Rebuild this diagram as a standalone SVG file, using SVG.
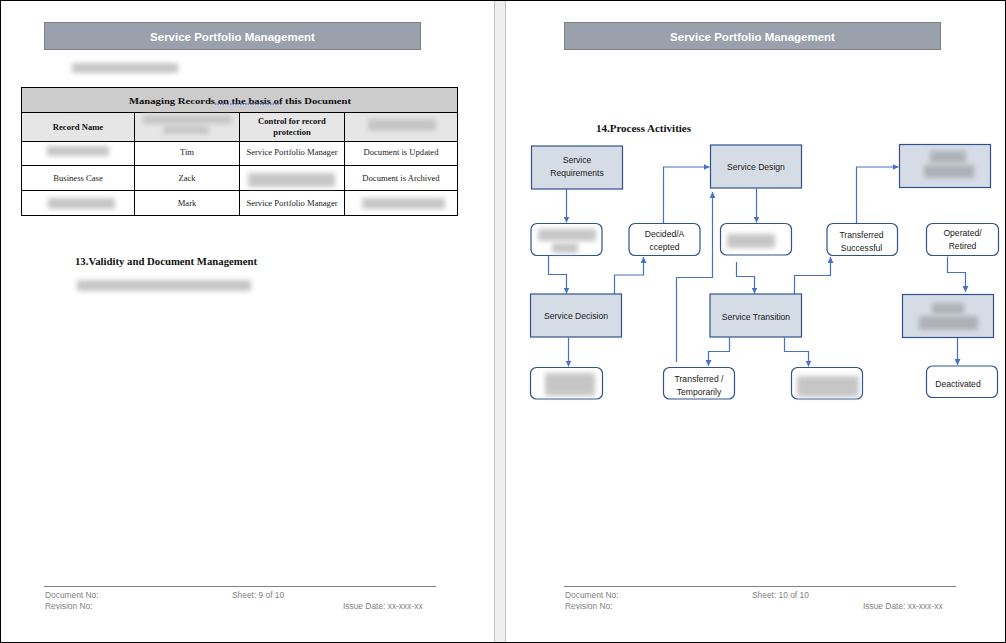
<svg xmlns="http://www.w3.org/2000/svg" width="1006" height="643" viewBox="0 0 1006 643">
<defs>
<style>
.hdr{fill:#9aa1ac;stroke:#7f7f7f;stroke-width:1}
.hdrt{font-family:"Liberation Sans",Arial,sans-serif;font-weight:bold;font-size:11.5px;fill:#fff;text-anchor:middle}
.ser{font-family:"Liberation Serif","Times New Roman",serif;font-size:8.6px;fill:#222;text-anchor:middle}
.serb{font-family:"Liberation Serif","Times New Roman",serif;font-size:8.6px;font-weight:bold;fill:#111;text-anchor:middle}
.sect{font-family:"Liberation Serif","Times New Roman",serif;font-size:10px;font-weight:bold;fill:#111}
.foot{font-family:"Liberation Sans",Arial,sans-serif;font-size:8.4px;fill:#7f7f7f}
.fl{font-family:"Liberation Sans",Arial,sans-serif;font-size:8.6px;fill:#1a1a1a;text-anchor:middle}
.proc{fill:#d6dce5;stroke:#2f528f;stroke-width:1.2}
.out{fill:#fff;stroke:#2f528f;stroke-width:1.2}
.cell{fill:none;stroke:#000;stroke-width:1}
.blur{fill:#c6c6c6;filter:url(#bl)}
.blurd{fill:#aeb1b8;filter:url(#bl)}
.con{fill:none;stroke:#4472c4;stroke-width:1.2;marker-end:url(#ah)}
</style>
<filter id="bl" x="-40%" y="-80%" width="180%" height="260%"><feGaussianBlur stdDeviation="2.8"/></filter>
<marker id="ah" markerUnits="userSpaceOnUse" markerWidth="7" markerHeight="6" refX="6" refY="3" orient="auto"><path d="M0,0 L6,3 L0,6 z" fill="#4472c4"/></marker>
</defs>
<rect x="0" y="0" width="1006" height="643" fill="#fff"/>
<!-- gutter -->
<rect x="494.5" y="0" width="11" height="643" fill="#efefef" stroke="#c0c0c0" stroke-width="1"/>
<rect x="0.5" y="0.5" width="1005" height="642" fill="none" stroke="#000" stroke-width="1"/>

<!-- LEFT PAGE -->
<g id="left-header">
<rect class="hdr" x="44.5" y="22.5" width="376" height="27"/>
<text class="hdrt" x="232.5" y="40.5">Service Portfolio Management</text>
</g>
<rect class="blur" x="72" y="63" width="106" height="10"/>

<g id="records-table">
<rect x="21.5" y="87.5" width="436" height="25" fill="#cccccc"/>
<rect x="21.5" y="112.5" width="436" height="29" fill="#e6e6e6"/>
<rect class="cell" x="21.5" y="87.5" width="436" height="128"/>
<line class="cell" x1="21.5" y1="112.5" x2="457.5" y2="112.5"/>
<line class="cell" x1="21.5" y1="141.5" x2="457.5" y2="141.5"/>
<line class="cell" x1="21.5" y1="165.5" x2="457.5" y2="165.5"/>
<line class="cell" x1="21.5" y1="190.5" x2="457.5" y2="190.5"/>
<line class="cell" x1="134.5" y1="112.5" x2="134.5" y2="215.5"/>
<line class="cell" x1="239.5" y1="112.5" x2="239.5" y2="215.5"/>
<line class="cell" x1="344.5" y1="112.5" x2="344.5" y2="215.5"/>
<text class="serb" x="240" y="103.5" font-size="10" textLength="222" lengthAdjust="spacingAndGlyphs">Managing Records on the basis of this Document</text>
<line x1="215" y1="104" x2="281" y2="104" stroke="#3355cc" stroke-width="1" stroke-dasharray="1.5,1"/>
<text class="serb" x="78" y="130">Record Name</text>
<rect class="blur" x="143" y="115" width="89" height="9"/>
<rect class="blur" x="163" y="126" width="46" height="8"/>
<text class="serb" x="292" y="124">Control for record</text>
<text class="serb" x="292" y="135">protection</text>
<rect class="blur" x="368" y="119" width="68" height="12"/>
<rect class="blur" x="47" y="146" width="62" height="10"/>
<text class="ser" x="187" y="155">Tim</text>
<text class="ser" x="292" y="155">Service Portfolio Manager</text>
<text class="ser" x="401" y="155">Document is Updated</text>
<text class="ser" x="78" y="181">Business Case</text>
<text class="ser" x="187" y="181">Zack</text>
<rect class="blur" x="248" y="173" width="87" height="14"/>
<text class="ser" x="401" y="181">Document is Archived</text>
<rect class="blur" x="48" y="198" width="67" height="11"/>
<text class="ser" x="187" y="206">Mark</text>
<text class="ser" x="292" y="206">Service Portfolio Manager</text>
<rect class="blur" x="362" y="198" width="83" height="11"/>
</g>

<text class="sect" x="75" y="265" textLength="182" lengthAdjust="spacingAndGlyphs">13.Validity and Document Management</text>
<rect class="blur" x="77" y="280" width="174" height="11"/>

<g id="left-footer">
<line x1="44" y1="586.5" x2="436" y2="586.5" stroke="#808080" stroke-width="1"/>
<text class="foot" x="45" y="598">Document No:</text>
<text class="foot" x="45" y="609">Revision No:</text>
<text class="foot" x="232" y="598">Sheet: 9 of 10</text>
<text class="foot" x="343" y="609">Issue Date: xx-xxx-xx</text>
</g>

<!-- RIGHT PAGE -->
<g id="right-header">
<rect class="hdr" x="564.5" y="22.5" width="376" height="27"/>
<text class="hdrt" x="752.5" y="40.5">Service Portfolio Management</text>
</g>
<text class="sect" x="596" y="131.5" textLength="95" lengthAdjust="spacingAndGlyphs">14.Process Activities</text>

<g id="connectors">
<path class="con" d="M566.5,189 V222.5"/>
<path class="con" d="M548.5,256 V274.5 H566.5 V293.5"/>
<path class="con" d="M614.5,294 V275 H643.5 V257"/>
<path class="con" d="M663.5,223 V167 H709.5"/>
<path class="con" d="M568.5,337.5 V366.5"/>
<path class="con" d="M676.5,362 V277.5 H712.5 V192"/>
<path class="con" d="M756.5,188.5 V222.5"/>
<path class="con" d="M736.5,262 V276.5 H754.5 V293.5"/>
<path class="con" d="M794.5,294 V275.5 H830.5 V257"/>
<path class="con" d="M856.5,223 V167 H898.5"/>
<path class="con" d="M729.5,337.5 V351.5 H708.5 V366"/>
<path class="con" d="M784.5,337.5 V351.5 H808.5 V366.5"/>
<path class="con" d="M947.5,256.5 V272.5 H965.5 V292"/>
<path class="con" d="M957.5,337.5 V365"/>
</g>

<g id="service-requirements">
<rect class="proc" x="531.5" y="146" width="91" height="43"/>
<text class="fl" x="577" y="163">Service</text>
<text class="fl" x="577" y="176">Requirements</text>
</g>
<g id="sr-output">
<rect class="out" x="531" y="223.5" width="71" height="32" rx="6"/>
<rect class="blur" x="538" y="229" width="58" height="12"/>
<rect class="blur" x="552" y="243" width="26" height="10"/>
</g>
<g id="decided-accepted">
<rect class="out" x="629" y="223.5" width="71" height="32" rx="6"/>
<text class="fl" x="664.5" y="237">Decided/A</text>
<text class="fl" x="664.5" y="250">ccepted</text>
</g>
<g id="service-decision">
<rect class="proc" x="530.5" y="294" width="91" height="43"/>
<text class="fl" x="576" y="319">Service Decision</text>
</g>
<g id="sd-output">
<rect class="out" x="530.5" y="367.5" width="72" height="31.5" rx="6"/>
<rect class="blur" x="545" y="373" width="50" height="23"/>
</g>
<g id="service-design">
<rect class="proc" x="710.5" y="145" width="91" height="43"/>
<text class="fl" x="756" y="170">Service Design</text>
</g>
<g id="design-output">
<rect class="out" x="720.5" y="223.5" width="71" height="31.5" rx="6"/>
<rect class="blur" x="727" y="234" width="48" height="14"/>
</g>
<g id="service-transition">
<rect class="proc" x="710" y="294" width="91.5" height="43"/>
<text class="fl" x="756" y="320">Service Transition</text>
</g>
<g id="transferred-temporarily">
<rect class="out" x="663.5" y="367.5" width="71" height="31.5" rx="6"/>
<text class="fl" x="699" y="382">Transferred  /</text>
<text class="fl" x="699" y="395">Temporarily</text>
</g>
<g id="transition-output">
<rect class="out" x="791.5" y="367.5" width="71" height="31.5" rx="6"/>
<rect class="blur" x="797" y="376" width="62" height="21"/>
</g>
<g id="transferred-successful">
<rect class="out" x="827" y="223.5" width="70.5" height="32" rx="6"/>
<text class="fl" x="861.5" y="238">Transferred</text>
<text class="fl" x="861.5" y="251">Successful</text>
</g>
<g id="top-right-process">
<rect class="proc" x="899.5" y="144.5" width="91" height="43"/>
<rect class="blurd" x="930" y="151" width="36" height="12"/>
<rect class="blurd" x="924" y="165" width="50" height="13"/>
</g>
<g id="operated-retired">
<rect class="out" x="926.5" y="223.5" width="72" height="32" rx="6"/>
<text class="fl" x="962.5" y="236">Operated/</text>
<text class="fl" x="962.5" y="249">Retired</text>
</g>
<g id="mid-right-process">
<rect class="proc" x="902.5" y="294.5" width="91" height="43"/>
<rect class="blurd" x="932" y="303" width="32" height="11"/>
<rect class="blurd" x="919" y="316" width="59" height="14"/>
</g>
<g id="deactivated">
<rect class="out" x="926.5" y="366" width="71" height="31.5" rx="6"/>
<text class="fl" x="958" y="387">Deactivated</text>
</g>

<g id="right-footer">
<line x1="564" y1="586.5" x2="956" y2="586.5" stroke="#808080" stroke-width="1"/>
<text class="foot" x="565" y="598">Document No:</text>
<text class="foot" x="565" y="609">Revision No:</text>
<text class="foot" x="752" y="598">Sheet: 10 of 10</text>
<text class="foot" x="863" y="609">Issue Date: xx-xxx-xx</text>
</g>
</svg>
